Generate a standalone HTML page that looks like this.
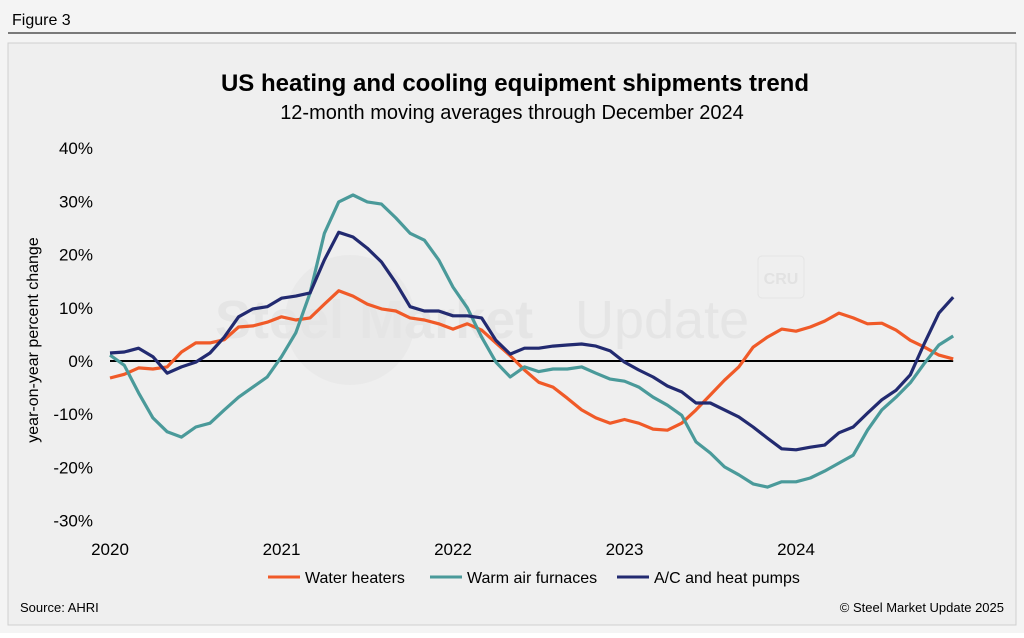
<!DOCTYPE html>
<html><head><meta charset="utf-8"><style>
body{margin:0;background:#fff;width:1024px;height:633px;overflow:hidden;font-family:"Liberation Sans",Arial,sans-serif}
</style></head><body>
<svg width="1024" height="633" xmlns="http://www.w3.org/2000/svg" font-family="Liberation Sans, Arial, sans-serif">
<rect x="0" y="0" width="1024" height="633" fill="#f4f4f4"/>
<text x="12" y="25" font-size="16" fill="#000">Figure 3</text>
<line x1="8" y1="33" x2="1016" y2="33" stroke="#000" stroke-width="1"/>
<rect x="8" y="43" width="1008" height="582" fill="#efefef" stroke="#cfcfcf"/>
<g>
<circle cx="350" cy="320" r="65" fill="#e9e9e9"/>
<text x="215" y="338" font-size="54" font-weight="bold" fill="#e5e5e5">Steel Market</text>
<text x="575" y="338" font-size="54" fill="#e5e5e5">Update</text>
<rect x="758" y="256" width="46" height="42" rx="4" fill="none" stroke="#e4e4e4"/>
<text x="781" y="284" font-size="16" font-weight="bold" fill="#e2e2e2" text-anchor="middle">CRU</text>
</g>
<text x="515" y="91" font-size="24" font-weight="bold" text-anchor="middle">US heating and cooling equipment shipments trend</text>
<text x="512" y="119" font-size="20" text-anchor="middle">12-month moving averages through December 2024</text>
<text transform="translate(38,340) rotate(-90)" font-size="16" text-anchor="middle">year-on-year percent change</text>
<g id="yticks"></g><g id="xticks"></g><g id="series"></g>
<g>
<line x1="268" y1="577" x2="300" y2="577" stroke="#f05a28" stroke-width="3"/><text x="305" y="583" font-size="16">Water heaters</text>
<line x1="430" y1="577" x2="462" y2="577" stroke="#4a9a9a" stroke-width="3"/><text x="467" y="583" font-size="16">Warm air furnaces</text>
<line x1="617" y1="577" x2="649" y2="577" stroke="#222a70" stroke-width="3"/><text x="654" y="583" font-size="16">A/C and heat pumps</text>
</g>
<text x="20" y="612" font-size="13">Source: AHRI</text>
<text x="1004" y="612" font-size="13" text-anchor="end">© Steel Market Update 2025</text>
</svg>
<script>
const yTicks=[40,30,20,10,0,-10,-20,-30];
const yTickLabels=["40%","30%","20%","10%","0%","-10%","-20%","-30%"];
const xYears=[2020,2021,2022,2023,2024];
const waterHeaters=[-3.2,-2.5,-1.3,-1.5,-1.1,1.7,3.4,3.4,4,6.4,6.6,7.3,8.3,7.7,8.1,10.7,13.2,12.2,10.7,9.8,9.4,8.1,7.7,7,6,7,5.8,3.4,1,-1.7,-4,-4.9,-7,-9.2,-10.7,-11.7,-11,-11.7,-12.8,-13,-11.7,-9.2,-6.4,-3.6,-1.1,2.6,4.5,6,5.6,6.4,7.5,9,8.1,7,7.1,5.8,3.9,2.6,1.1,0.4];
const furnaces=[1.1,-0.8,-6,-10.7,-13.3,-14.3,-12.4,-11.7,-9.2,-6.8,-4.9,-3,0.8,5.3,12.8,24,29.9,31.2,29.9,29.5,26.9,24,22.7,19,13.9,10,4.5,-0.2,-3,-1.1,-2,-1.5,-1.5,-1.1,-2.3,-3.4,-3.8,-4.9,-6.8,-8.3,-10.2,-15.2,-17.3,-19.9,-21.4,-23.1,-23.7,-22.7,-22.7,-22,-20.7,-19.2,-17.7,-13,-9.2,-6.8,-4.1,-0.4,3,4.7];
const acHeatPumps=[1.5,1.7,2.4,0.8,-2.3,-1.1,-0.2,1.5,4.5,8.3,9.8,10.2,11.8,12.2,12.8,19,24.2,23.3,21.2,18.6,14.7,10.2,9.4,9.4,8.5,8.5,8.1,3.9,1.3,2.4,2.4,2.8,3,3.2,2.8,1.9,-0.2,-1.7,-3,-4.7,-5.8,-7.9,-7.9,-9.2,-10.5,-12.4,-14.5,-16.5,-16.7,-16.2,-15.8,-13.5,-12.4,-9.8,-7.3,-5.5,-2.6,3.4,9,12];
const NS="http://www.w3.org/2000/svg";
const y=v=>361-v*5.32;
const x=i=>110+i*(171.5/12);
function mk(t,a,p){const e=document.createElementNS(NS,t);for(const k in a)e.setAttribute(k,a[k]);p.appendChild(e);return e;}
const yg=document.getElementById('yticks');
yTicks.forEach((v,k)=>{const t=mk('text',{x:93,y:y(v)+6,'font-size':17,'text-anchor':'end'},yg);t.textContent=yTickLabels[k];

});
const xg=document.getElementById('xticks');
xYears.forEach((yr,k)=>{const t=mk('text',{x:x(k*12),y:555,'font-size':17,'text-anchor':'middle'},xg);t.textContent=yr;

});
const sg=document.getElementById('series');
const zl=mk('line',{x1:x(0),x2:x(59),y1:y(0),y2:y(0),stroke:'#000','stroke-width':2},sg);


[[waterHeaters,'#f05a28','water-heaters-line'],[furnaces,'#4a9a9a','furnaces-line'],[acHeatPumps,'#222a70','ac-heat-pumps-line']].forEach(([d,c,n])=>{
const p=mk('polyline',{points:d.map((v,i)=>x(i).toFixed(1)+','+y(v).toFixed(1)).join(' '),fill:'none',stroke:c,'stroke-width':3.2,'stroke-linejoin':'round'},sg);

});
</script>
</body></html>
